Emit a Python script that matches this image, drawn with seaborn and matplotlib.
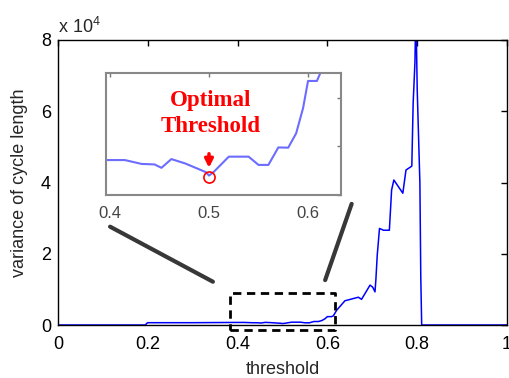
import numpy as np
import pandas as pd
import matplotlib
matplotlib.use("Agg")
import matplotlib.pyplot as plt
import seaborn as sns
from matplotlib.ticker import FuncFormatter, FixedLocator

# ---------------- data ----------------
threshold = [0.0, 0.195, 0.197, 0.2, 0.3, 0.395, 0.415, 0.432, 0.445, 0.452, 0.462,
             0.476, 0.497, 0.5, 0.505, 0.52, 0.54, 0.55, 0.56, 0.57, 0.58, 0.588,
             0.595, 0.6, 0.609, 0.613, 0.621, 0.639, 0.669, 0.676, 0.695, 0.701,
             0.706, 0.708, 0.711, 0.716, 0.725, 0.738, 0.743, 0.748, 0.768, 0.775,
             0.788, 0.789, 0.791, 0.795, 0.797, 0.800, 0.806, 0.808, 0.81, 1.0]
variance = [0, 0, 400, 650, 650, 720, 720, 640, 630, 560, 740,
            650, 470, 400, 480, 790, 790, 620, 620, 980, 975, 1270,
            1790, 2350, 2350, 2540, 4200, 6800, 7800, 7200, 11200, 10600,
            9300, 12800, 19600, 27100, 26600, 26600, 37900, 40700, 37000, 43500,
            44600, 50500, 62300, 73800, 90000, 66200, 39800, 13200, 0, 0]
optimal_threshold = 0.5
optimal_variance = 400

main_xticks = [0, 0.2, 0.4, 0.6, 0.8, 1.0]
main_yticks = [0, 20000, 40000, 60000, 80000]
inset_xticks = [0.4, 0.5, 0.6]
inset_yticks = [0, 1000, 2000]

df = pd.DataFrame({"threshold": threshold, "variance": variance})

# ---------------- style ----------------
sns.set_style("white")
plt.rcParams["font.family"] = ["Liberation Sans", "DejaVu Sans"]
plt.rcParams["mathtext.fontset"] = "custom"
plt.rcParams["mathtext.rm"] = "Liberation Sans"
plt.rcParams["mathtext.it"] = "Liberation Sans"

fig = plt.figure(figsize=(5.10, 3.78), dpi=100)
ax = fig.add_axes([58/510, 1-325/378, 449/510, 285/378])

sns.lineplot(data=df, x="threshold", y="variance", ax=ax, color="#0000ff",
             lw=1.1, estimator=None, sort=False)
ax.set_xlim(0, 1)
ax.set_ylim(0, 80000)
ax.xaxis.set_major_locator(FixedLocator(main_xticks))
ax.yaxis.set_major_locator(FixedLocator(main_yticks))
ax.xaxis.set_major_formatter(FuncFormatter(lambda v, p: f"{v:g}"))
ax.yaxis.set_major_formatter(FuncFormatter(lambda v, p: f"{v/1e4:g}"))
ax.tick_params(direction="in", length=4, width=1, top=True, right=True,
               labelsize=13, colors="black", pad=5)
ax.tick_params(axis="x", pad=8)
for s in ax.spines.values():
    s.set_color("black")
    s.set_linewidth(1.0)
ax.set_xlabel("threshold", fontsize=13, labelpad=6)
ax.set_ylabel("variance of cycle length", fontsize=13, labelpad=9)
ax.text(0.0, 1.01, r"x 10$^{4}$", transform=ax.transAxes, fontsize=13,
        ha="left", va="bottom")

# dashed zoom rectangle
rx0, rx1, ry0, ry1 = 0.383, 0.617, -1400, 9000
ax.plot([rx0, rx1, rx1, rx0, rx0], [ry0, ry0, ry1, ry1, ry0], ls=(0, (3, 2)),
        color="black", lw=2, clip_on=False, zorder=5)
# connector lines
ax.plot([0.116, 0.345], [27600, 12150], color="#222222", lw=3, clip_on=False,
        solid_capstyle="round", alpha=0.9)
ax.plot([0.654, 0.595], [34000, 12600], color="#222222", lw=3, clip_on=False,
        solid_capstyle="round", alpha=0.9)

# ---------------- inset ----------------
ins = fig.add_axes([106/510, 1-195/378, (340.7-106)/510, (195-72.7)/378])
sns.lineplot(data=df, x="threshold", y="variance", ax=ins, color="#5c5cff",
             lw=1.5, estimator=None, sort=False, alpha=0.9)
ins.set_xlim(0.396, 0.633)
ins.set_ylim(0, 2520)
ins.xaxis.set_major_locator(FixedLocator(inset_xticks))
ins.yaxis.set_major_locator(FixedLocator(inset_yticks))
ins.xaxis.set_major_formatter(FuncFormatter(lambda v, p: f"{v:g}"))
ins.set_yticklabels([])
ins.set_xlabel("")
ins.set_ylabel("")
ins.tick_params(direction="in", length=3, width=1, top=True, right=True,
                labelsize=12, colors="#777777", labelcolor="#444444", pad=8)
for s in ins.spines.values():
    s.set_color("#888888")
    s.set_linewidth(1.5)

ins.plot([optimal_threshold], [optimal_variance - 20], "o", mfc="none",
         mec="red", ms=8, mew=1.2)
ins.annotate("", xy=(optimal_threshold, 560), xytext=(optimal_threshold, 850),
             arrowprops=dict(arrowstyle="-|>", color="red", lw=2.5,
                             mutation_scale=12, shrinkA=0, shrinkB=0))
ins.text(optimal_threshold + 0.002, 1680, "Optimal\nThreshold", color="red",
         fontsize=16.5, fontweight="bold", family=["Liberation Serif"],
         ha="center", va="center", linespacing=1.3)

fig.savefig("out.png", dpi=100)
